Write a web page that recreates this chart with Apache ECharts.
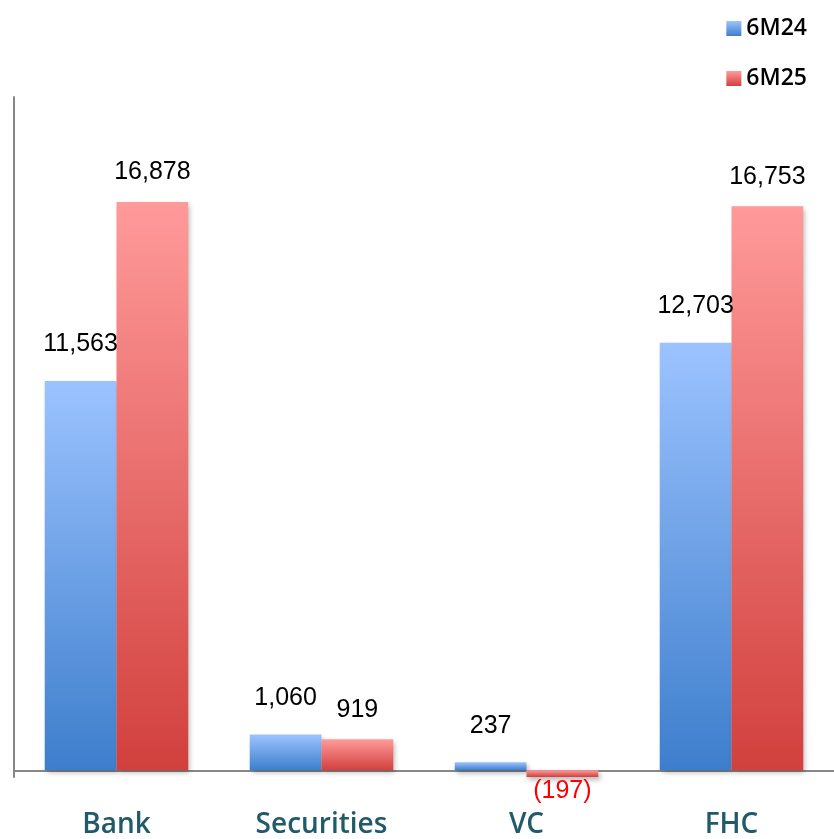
<!DOCTYPE html>
<html><head><meta charset="utf-8">
<script src="https://cdn.jsdelivr.net/npm/echarts@6/dist/echarts.min.js"></script>
<style>html,body{margin:0;padding:0;background:#fff}#c{width:834px;height:839px}</style>
</head><body><div id="c"></div>
<script>
const categories = ['Bank', 'Securities', 'VC', 'FHC'];
const seriesNames = ['6M24', '6M25'];
const values6M24 = [11563, 1060, 237, 12703];
const values6M25 = [16878, 919, -197, 16753];

const fmt = v => {
  const s = Math.abs(v).toLocaleString('en-US');
  return v < 0 ? '{neg|(' + s + ')}' : s;
};
const grad = (top, bottom) => new echarts.graphic.LinearGradient(0, 0, 0, 1, [
  {offset: 0, color: top}, {offset: 1, color: bottom}]);
const blue = grad('#9cc3ff', '#3d7ecc');
const red = grad('#ff9a9a', '#d1403d');
const shadow = {shadowBlur: 5, shadowOffsetX: 2, shadowOffsetY: 3, shadowColor: 'rgba(0,0,0,0.28)'};
const labelStyle = {
  show: true, fontFamily: 'Liberation Sans, Arial', fontSize: 25, color: '#000',
  formatter: p => fmt(p.value),
  rich: {neg: {color: '#ff0000', fontSize: 25, fontFamily: 'Liberation Sans, Arial'}}
};
const toItems = arr => arr.map(v => v < 0 ? {value: v, label: {position: 'bottom', distance: 2}} : v);

const chart = echarts.init(document.getElementById('c'));
chart.setOption({
  animation: false,
  legend: {
    orient: 'vertical', right: 22, top: 12, itemWidth: 15, itemHeight: 15, itemGap: 27,
    icon: 'rect',
    textStyle: {fontFamily: 'Open Sans', fontWeight: 600, fontSize: 23, color: '#000'},
    data: seriesNames
  },
  grid: {left: 14, right: 0, top: 97, bottom: 58, containLabel: false},
  xAxis: {
    type: 'category', data: categories,
    axisLine: {onZero: true, lineStyle: {color: '#878787', width: 2}},
    axisTick: {show: false},
    axisLabel: {margin: 34, fontFamily: 'Open Sans', fontWeight: 600, fontSize: 28, color: '#215a68'}
  },
  yAxis: {
    type: 'value', min: -200, max: 20000,
    axisLine: {show: true, lineStyle: {color: '#878787', width: 2}},
    axisTick: {show: false}, axisLabel: {show: false}, splitLine: {show: false}
  },
  series: [
    {name: seriesNames[0], type: 'bar', data: toItems(values6M24), barGap: '0%', barCategoryGap: '30%',
     itemStyle: Object.assign({color: blue}, shadow),
     label: Object.assign({position: 'top', distance: 24}, labelStyle)},
    {name: seriesNames[1], type: 'bar', data: toItems(values6M25),
     itemStyle: Object.assign({color: red}, shadow),
     label: Object.assign({position: 'top', distance: 17}, labelStyle)}
  ]
});
</script></body></html>
